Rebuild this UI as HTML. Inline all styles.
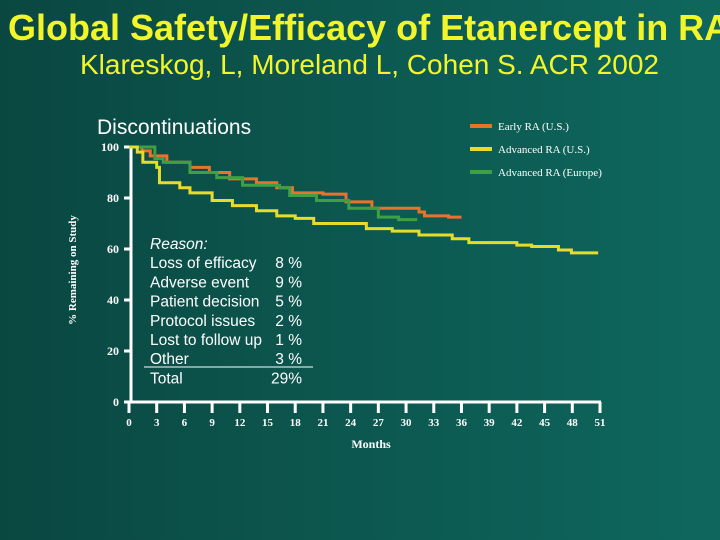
<!DOCTYPE html>
<html><head><meta charset="utf-8"><style>
html,body{margin:0;padding:0}
body{width:720px;height:540px;overflow:hidden;background:linear-gradient(90deg,#0a4741 0%,#0c5850 50%,#0e675d 100%);position:relative;font-family:"Liberation Sans",sans-serif}
.t{position:absolute;white-space:nowrap}
</style></head><body>
<div class="t" style="left:8px;top:7px;font-size:36px;font-weight:bold;color:#f2f52a">Global Safety/Efficacy of Etanercept in RA</div>
<div class="t" style="left:80px;top:49px;font-size:28px;color:#f2f52a">Klareskog, L, Moreland L, Cohen S. ACR 2002</div>
<svg id="c" width="720" height="540" style="position:absolute;left:0;top:0"></svg>
<script>
const xTicks=[0,3,6,9,12,15,18,21,24,27,30,33,36,39,42,45,48,51];
const yTicks=[0,20,40,60,80,100];
const seriesNames=["Early RA (U.S.)","Advanced RA (U.S.)","Advanced RA (Europe)"];
const earlyM=[0,0.5,1.4,2.3,4.1,6.6,8.7,10.9,13.8,16,17.7,21,23.5,26.3,31.4,32,34.6,36];
const earlyV=[100,100,98.5,96.5,94,92,90,87.5,86,84,82,81.5,78.5,76,74.5,73,72.5,72.5];
const advUSM=[0,0.9,1.5,3,3.3,5.5,6.6,9,11.2,13.8,16,18,20,25.7,28.5,31.4,35,36.8,42,43.6,46.5,47.9,50.8];
const advUSV=[100,98,94,92,86,84,82,79,77,75,73,72,70,68,67,65.5,64,62.5,61.5,61,59.6,58.5,58.5];
const euM=[0,2.3,2.8,3.7,6.6,9.5,12.3,16.3,17.4,20.3,23.8,27,29.2,31.2];
const euV=[100,100,95.5,94,90,88,85,84,81,79,76,72.5,71.5,71.5];
const colors=["#e8742a","#e6dc2a","#3f9f45"];
const svg=document.getElementById('c');const NS='http://www.w3.org/2000/svg';
const X=m=>129+m*(600-129)/51, Y=v=>402-v*2.55;
function el(t,a,p){const e=document.createElementNS(NS,t);for(const k in a)e.setAttribute(k,a[k]);(p||svg).appendChild(e);return e;}
const serif='"Liberation Serif",serif';
let e=el('text',{x:97,y:134,fill:'#fff','font-size':21,'font-family':'"Liberation Sans",sans-serif'});e.textContent='Discontinuations';


e=el('line',{x1:131,y1:Y(100),x2:131,y2:402,stroke:'#fff','stroke-width':3});


e=el('line',{x1:126,y1:402,x2:X(51)+1,y2:402,stroke:'#fff','stroke-width':3});


yTicks.forEach(v=>{
 let l=el('line',{x1:124,y1:Y(v),x2:131,y2:Y(v),stroke:'#fff','stroke-width':3});
 
 
 let t=el('text',{x:119,y:Y(v)+4,fill:'#fff','font-size':12,'font-weight':'bold','text-anchor':'end','font-family':serif});t.textContent=v;
 
 
});
xTicks.forEach(m=>{
 let l=el('line',{x1:X(m),y1:402,x2:X(m),y2:413,stroke:'#fff','stroke-width':3});
 
 
 let t=el('text',{x:X(m),y:426,fill:'#fff','font-size':11,'font-weight':'bold','text-anchor':'middle','font-family':serif});t.textContent=m;
 
 
});
e=el('text',{x:371,y:448,fill:'#fff','font-size':12,'font-weight':'bold','text-anchor':'middle','font-family':serif});e.textContent='Months';


e=el('text',{x:0,y:0,fill:'#fff','font-size':11,'font-weight':'bold','text-anchor':'middle','font-family':serif,transform:'translate(76,270) rotate(-90)'});e.textContent='% Remaining on Study';


function step(ms,vs){let d='M'+X(ms[0])+','+Y(vs[0]);for(let i=1;i<ms.length;i++){d+=' H'+X(ms[i])+' V'+Y(vs[i]);}return d;}
const names=['line-early-ra-us','line-advanced-ra-us','line-advanced-ra-europe'];
[[earlyM,earlyV],[euM,euV],[advUSM,advUSV]].forEach((s,i)=>{
 const ci=[0,2,1][i];
 let p=el('path',{d:step(s[0],s[1]),fill:'none',stroke:colors[ci],'stroke-width':3});
 
 
});
seriesNames.forEach((n,i)=>{
 const y=126+i*23;
 let g=el('g',{});
 
 
 el('line',{x1:470,y1:y,x2:492,y2:y,stroke:colors[i],'stroke-width':4},g);
 let t=el('text',{x:498,y:y+4,fill:'#fff','font-size':11,'font-family':serif},g);t.textContent=n;
});
const reasons=[["Reason:",""],["Loss of efficacy","8 %"],["Adverse event","9 %"],["Patient decision","5 %"],["Protocol issues","2 %"],["Lost to follow up","1 %"],["Other","3 %"],["Total","29%"]];
reasons.forEach((r,i)=>{
 const y=249+i*19.2;
 let a=el('text',{x:150,y:y,fill:'#fff','font-size':15.5,'font-family':'"Liberation Sans",sans-serif','font-style':i==0?'italic':'normal'});a.textContent=r[0];
 
 
 if(r[1]){let b=el('text',{x:302,y:y,fill:'#fff','font-size':15.5,'text-anchor':'end','font-family':'"Liberation Sans",sans-serif'});b.textContent=r[1];
 
 }
});
e=el('line',{x1:144,y1:367,x2:313,y2:367,stroke:'#fff','stroke-width':1});


</script>
</body></html>
